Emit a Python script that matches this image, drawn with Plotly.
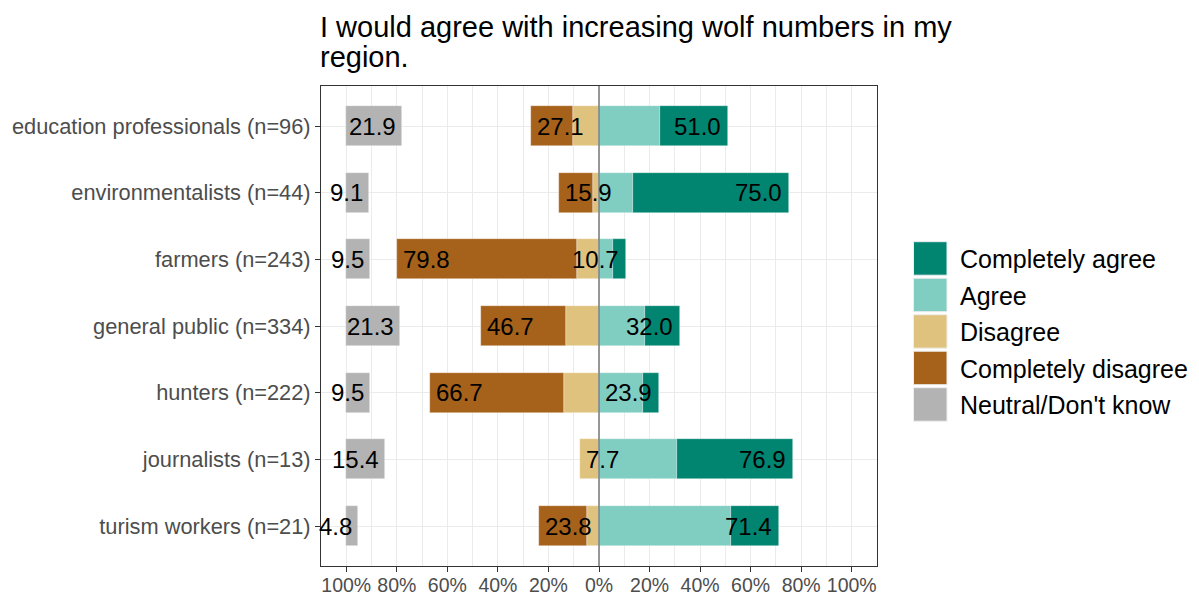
import plotly.graph_objects as go

# ---------------- data ----------------
categories = [
    "education professionals (n=96)",
    "environmentalists (n=44)",
    "farmers (n=243)",
    "general public (n=334)",
    "hunters (n=222)",
    "journalists (n=13)",
    "turism workers (n=21)",
]
completely_agree = [27.0, 61.4, 5.1, 13.7, 6.3, 46.1, 19.0]
agree = [24.0, 13.6, 5.6, 18.3, 17.6, 30.8, 52.4]
disagree = [10.4, 2.3, 8.6, 13.2, 14.0, 7.7, 4.8]
completely_disagree = [16.7, 13.6, 71.2, 33.5, 52.7, 0.0, 19.0]
neutral = [21.9, 9.1, 9.5, 21.3, 9.5, 15.4, 4.8]

x_tick_vals = [-100, -80, -60, -40, -20, 0, 20, 40, 60, 80, 100]
x_tick_text = ["100%", "80%", "60%", "40%", "20%", "0%", "20%", "40%", "60%", "80%", "100%"]

legend_labels = ["Completely agree", "Agree", "Disagree", "Completely disagree", "Neutral/Don't know"]
title_lines = ["I would agree with increasing wolf numbers in my", "region."]

# ---------------- styles ----------------
C_CA = "#018571"
C_A = "#80CDC1"
C_D = "#DFC27D"
C_CD = "#A6611A"
C_N = "#B3B3B3"
FONT = "Liberation Sans, Arial, sans-serif"

W, H = 1199, 596
L, R, T, B = 321, 877, 86, 566
BAR_W = 0.6


def px_x(px):
    return (px - L) / (R - L)


def px_y(py):
    return (B - py) / (B - T)


fig = go.Figure()

common = dict(orientation="h", width=BAR_W, showlegend=False, hoverinfo="skip",
              marker_line_width=0.6, marker_line_color="rgba(255,255,255,0.6)")

fig.add_trace(go.Bar(y=categories, x=[-v for v in disagree], marker_color=C_D, **common))
fig.add_trace(go.Bar(y=categories, x=[-v for v in completely_disagree], marker_color=C_CD, **common))
fig.add_trace(go.Bar(y=categories, x=agree, marker_color=C_A, **common))
fig.add_trace(go.Bar(y=categories, x=completely_agree, marker_color=C_CA, **common))
fig.add_trace(go.Bar(y=categories, x=neutral, base=[-100] * len(neutral),
                     marker_color=C_N, **common))

annotations = []
lab_font = dict(family=FONT, size=24, color="black")
for i, cat in enumerate(categories):
    dis_total = disagree[i] + completely_disagree[i]
    agr_total = agree[i] + completely_agree[i]
    annotations.append(dict(x=-dis_total, y=cat, xref="x", yref="y", text=f"{dis_total:.1f}",
                            showarrow=False, xanchor="left", yanchor="middle", xshift=4,
                            font=lab_font))
    annotations.append(dict(x=agr_total, y=cat, xref="x", yref="y", text=f"{agr_total:.1f}",
                            showarrow=False, xanchor="right", yanchor="middle", xshift=-5,
                            font=lab_font))
    annotations.append(dict(x=-100 + neutral[i], y=cat, xref="x", yref="y",
                            text=f"{neutral[i]:.1f}",
                            showarrow=False, xanchor="right", yanchor="middle", xshift=-4,
                            font=lab_font))

# title (two lines)
title_centers = [27, 57]
for line, cy in zip(title_lines, title_centers):
    annotations.append(dict(x=px_x(320), y=px_y(cy), xref="paper", yref="paper", text=line,
                            showarrow=False, xanchor="left", yanchor="middle", xshift=-2,
                            font=dict(family=FONT, size=29, color="black")))

# custom legend
shapes = []
legend_colors = [C_CA, C_A, C_D, C_CD, C_N]
key_top0 = 241.7
key_step = 36.5
key_size = 33.5
for k, (lab, col) in enumerate(zip(legend_labels, legend_colors)):
    y0 = key_top0 + k * key_step
    shapes.append(dict(type="rect", xref="paper", yref="paper",
                       x0=px_x(913.5), x1=px_x(913.5 + key_size),
                       y0=px_y(y0 + key_size), y1=px_y(y0),
                       fillcolor=col, line=dict(color="#EEEEEE", width=1), layer="above"))
    annotations.append(dict(x=px_x(960), y=px_y(y0 + key_size / 2 + 1), xref="paper", yref="paper",
                            text=lab, showarrow=False, xanchor="left", yanchor="middle",
                            xshift=-2, font=dict(family=FONT, size=25, color="black")))

# zero line
shapes.append(dict(type="line", xref="x", yref="paper", x0=0, x1=0, y0=0, y1=1,
                   line=dict(color="#808080", width=1.6), layer="above"))

fig.update_layout(
    width=W, height=H,
    margin=dict(l=L, r=W - R, t=T, b=H - B, autoexpand=False),
    barmode="relative",
    bargap=0,
    plot_bgcolor="white", paper_bgcolor="white",
    font=dict(family=FONT),
    annotations=annotations,
    shapes=shapes,
    showlegend=False,
)

fig.update_xaxes(
    range=[-110, 110],
    tickvals=x_tick_vals, ticktext=x_tick_text,
    tickfont=dict(family=FONT, size=19.5, color="#4D4D4D"),
    ticks="outside", ticklen=5, tickwidth=1, tickcolor="#333333",
    ticklabelstandoff=-3,
    showline=True, mirror=True, linecolor="#333333", linewidth=1,
    showgrid=True, gridcolor="#EBEBEB", gridwidth=1.2,
    minor=dict(dtick=10, tick0=0, showgrid=True, gridcolor="#EBEBEB", gridwidth=0.6, ticklen=0),
    zeroline=False, automargin=False, fixedrange=True,
)
fig.update_yaxes(
    categoryorder="array", categoryarray=categories,
    range=[len(categories) - 0.4, -0.6],
    tickfont=dict(family=FONT, size=21.8, color="#4D4D4D"),
    ticks="outside", ticklen=5, tickwidth=1, tickcolor="#333333",
    showline=True, mirror=True, linecolor="#333333", linewidth=1,
    showgrid=True, gridcolor="#EBEBEB", gridwidth=1.2,
    zeroline=False, automargin=False, fixedrange=True,
)

fig.write_html("out.html", config={"displayModeBar": False},
               post_script="document.body.style.margin='0';document.body.style.overflow='hidden';")
